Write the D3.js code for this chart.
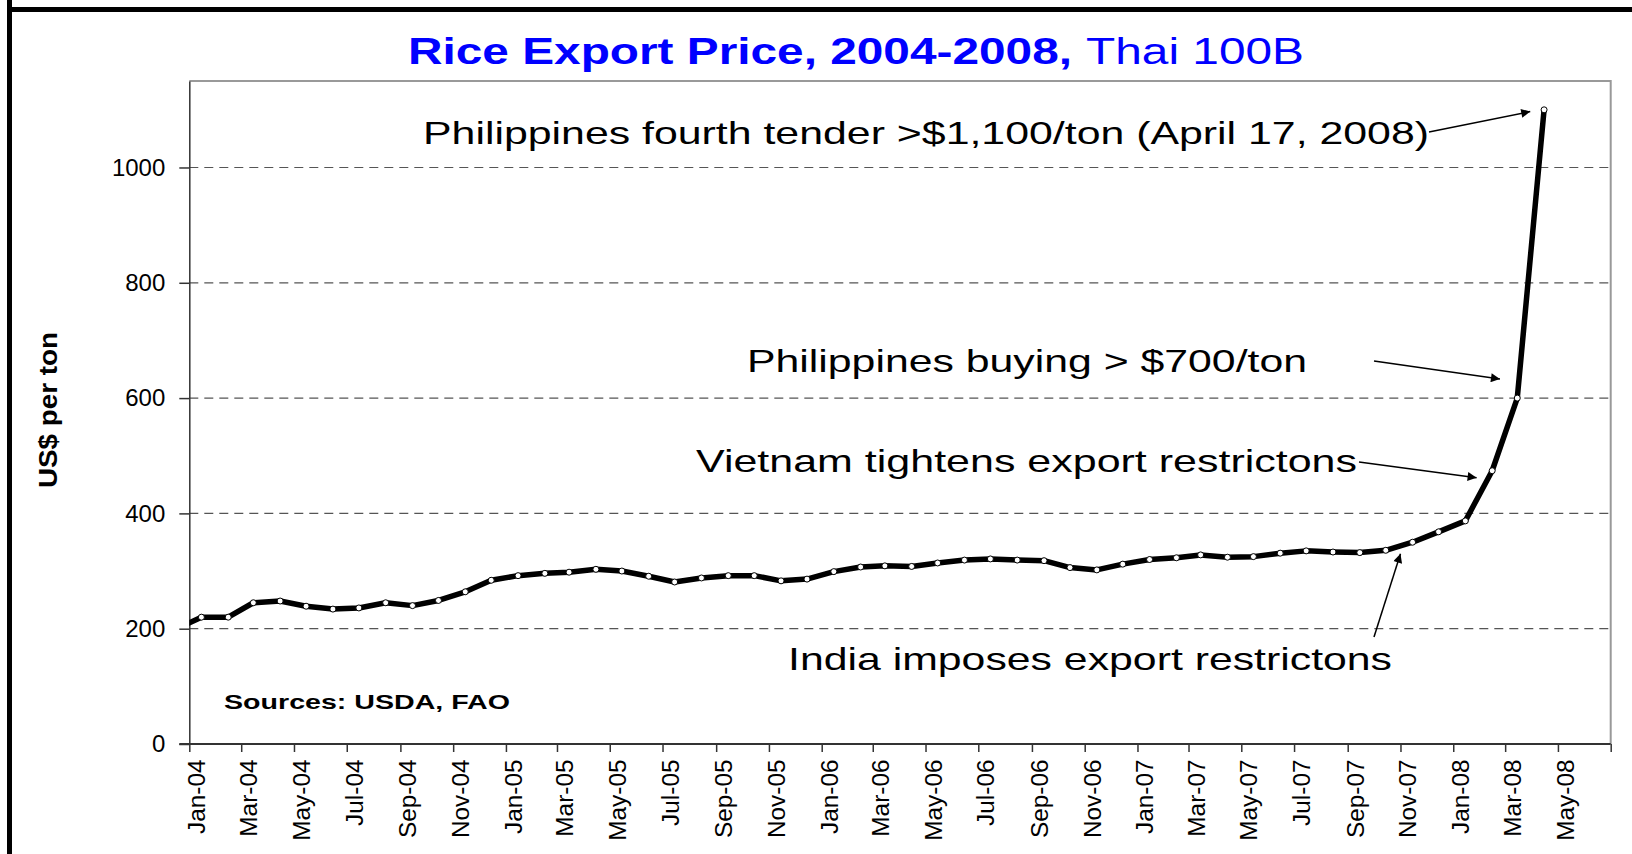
<!DOCTYPE html>
<html>
<head>
<meta charset="utf-8">
<script src="https://cdn.jsdelivr.net/npm/d3@7"></script>
<style>
  html, body { margin: 0; padding: 0; background: #fff; }
  svg { display: block; font-family: "Liberation Sans", Arial, sans-serif; }
</style>
</head>
<body>
<div id="chart"></div>
<script>
// Thai 100B rice export price, US$ per ton, monthly quotes
// (the Dec-03 quote only feeds the start of the line, which is clipped at the axis)
var months = [
  "2003-12",
  "2004-01", "2004-02", "2004-03", "2004-04", "2004-05", "2004-06", "2004-07", "2004-08", "2004-09", "2004-10", "2004-11", "2004-12",
  "2005-01", "2005-02", "2005-03", "2005-04", "2005-05", "2005-06", "2005-07", "2005-08", "2005-09", "2005-10", "2005-11", "2005-12",
  "2006-01", "2006-02", "2006-03", "2006-04", "2006-05", "2006-06", "2006-07", "2006-08", "2006-09", "2006-10", "2006-11", "2006-12",
  "2007-01", "2007-02", "2007-03", "2007-04", "2007-05", "2007-06", "2007-07", "2007-08", "2007-09", "2007-10", "2007-11", "2007-12",
  "2008-01", "2008-02", "2008-03", "2008-04"
];
var prices = [
  198,
  220, 220, 245, 248, 239, 234, 236, 245, 240, 249, 264, 284,
  292, 296, 298, 303, 300, 291, 281, 288, 292, 292, 283, 286,
  299, 307, 309, 308, 314, 319, 321, 319, 318, 306, 302, 312,
  320, 323, 328, 324, 325, 331, 335, 333, 332, 336, 350, 368,
  387, 474, 600, 1100
];

var yTicks = [0, 200, 400, 600, 800, 1000];
var xTickLabels = [
  "Jan-04", "Mar-04", "May-04", "Jul-04", "Sep-04", "Nov-04",
  "Jan-05", "Mar-05", "May-05", "Jul-05", "Sep-05", "Nov-05",
  "Jan-06", "Mar-06", "May-06", "Jul-06", "Sep-06", "Nov-06",
  "Jan-07", "Mar-07", "May-07", "Jul-07", "Sep-07", "Nov-07",
  "Jan-08", "Mar-08", "May-08", "Jul-08"
];

var titleBold = "Rice Export Price, 2004-2008,";
var titleRest = "Thai 100B";
var yLabel = "US$ per ton";
var sourceNote = "Sources: USDA, FAO";

// annotation texts and the point on the curve each arrow points at
var noteTexts = [
  "Philippines fourth tender >$1,100/ton (April 17, 2008)",
  "Philippines buying > $700/ton",
  "Vietnam tightens export restrictons",
  "India imposes export restrictons"
];
var noteTargetDates = ["2008-03-30", "2008-02-24", "2008-01-28", "2007-11-01"];
var noteTargetValues = [1097, 633, 462, 330];

// layout for the annotation texts: left x, baseline, width, arrow start
var noteLayout = [
  {x: 423, y: 144, w: 1006, ax: 1429, ay: 132},
  {x: 747, y: 372, w: 560, ax: 1374, ay: 361},
  {x: 696, y: 472, w: 661, ax: 1359, ay: 462},
  {x: 788, y: 670, w: 604, ax: 1374, ay: 637}
];

var W = 1632, H = 854;
var plot = {left: 189.3, right: 1610.7, top: 81, bottom: 744};

var parseMonth = d3.timeParse("%Y-%m");
var parseDay = d3.timeParse("%Y-%m-%d");
var parseTick = d3.timeParse("%b-%y");

// quotes sit mid-month on a date axis
var data = months.map(function(m, i) {
  return {date: d3.timeDay.offset(parseMonth(m), 14), value: prices[i]};
});

var x = d3.scaleTime()
  .domain([new Date(2004, 0, 1), new Date(2008, 6, 1)])
  .range([plot.left, plot.right]);
var y = d3.scaleLinear()
  .domain([0, 1150])
  .range([plot.bottom, plot.top]);

var svg = d3.select("#chart").append("svg")
  .attr("width", W)
  .attr("height", H);

svg.append("rect").attr("width", W).attr("height", H).attr("fill", "#fff");

var defs = svg.append("defs");
defs.append("clipPath").attr("id", "plotclip")
  .append("rect")
  .attr("x", plot.left).attr("y", plot.top - 10)
  .attr("width", plot.right - plot.left).attr("height", plot.bottom - plot.top + 10);
defs.append("marker")
  .attr("id", "arrow")
  .attr("viewBox", "0 0 10 10")
  .attr("refX", 10).attr("refY", 5)
  .attr("markerWidth", 15).attr("markerHeight", 9)
  .attr("markerUnits", "userSpaceOnUse")
  .attr("orient", "auto")
  .append("path")
  .attr("d", "M0,0L10,5L0,10z")
  .attr("fill", "#000");

// slide frame
svg.append("line")
  .attr("x1", 9.5).attr("x2", 9.5).attr("y1", 0).attr("y2", H)
  .attr("stroke", "#000").attr("stroke-width", 5);
svg.append("line")
  .attr("x1", 7).attr("x2", W).attr("y1", 9.5).attr("y2", 9.5)
  .attr("stroke", "#000").attr("stroke-width", 5);

// stretch text along its length like the original
function stretch(sel, k) {
  sel.each(function() {
    var len = this.getComputedTextLength();
    if (len > 0) {
      d3.select(this).attr("textLength", len * k).attr("lengthAdjust", "spacingAndGlyphs");
    }
  });
}

// title
svg.append("text")
  .attr("x", 408).attr("y", 64)
  .attr("font-size", 36).attr("font-weight", "bold")
  .attr("fill", "#0000ff")
  .attr("textLength", 664).attr("lengthAdjust", "spacingAndGlyphs")
  .text(titleBold);
svg.append("text")
  .attr("x", 1086).attr("y", 64)
  .attr("font-size", 36)
  .attr("fill", "#0000ff")
  .attr("textLength", 218).attr("lengthAdjust", "spacingAndGlyphs")
  .text(titleRest);

// gridlines
svg.append("g")
  .selectAll("line")
  .data(yTicks.filter(function(d) { return d > 0; }))
  .join("line")
  .attr("x1", plot.left).attr("x2", plot.right)
  .attr("y1", function(d) { return y(d); })
  .attr("y2", function(d) { return y(d); })
  .attr("stroke", "#555")
  .attr("stroke-width", 1.2)
  .attr("stroke-dasharray", "9,6");

// plot frame, top and right
svg.append("path")
  .attr("d", "M" + plot.left + "," + plot.top + "H" + plot.right + "V" + plot.bottom)
  .attr("fill", "none")
  .attr("stroke", "#999")
  .attr("stroke-width", 2);

// y axis
var yAxis = svg.append("g")
  .attr("transform", "translate(" + plot.left + ",0)")
  .call(d3.axisLeft(y).tickValues(yTicks).tickFormat(d3.format("d"))
    .tickSize(10).tickSizeOuter(0).tickPadding(14));
yAxis.select(".domain").attr("stroke", "#333").attr("stroke-width", 1.5);
yAxis.selectAll(".tick line").attr("stroke", "#333").attr("stroke-width", 1.5);
yAxis.selectAll("text")
  .attr("font-size", 24)
  .attr("font-family", "'Liberation Sans', Arial, sans-serif")
  .attr("fill", "#000");

// x axis
var xTicks = xTickLabels.map(function(s) { return parseTick(s); });
var xAxis = svg.append("g")
  .attr("transform", "translate(0," + plot.bottom + ")")
  .call(d3.axisBottom(x).tickValues(xTicks).tickSize(8).tickSizeOuter(0)
    .tickFormat(function(d, i) { return i < xTickLabels.length - 1 ? xTickLabels[i] : ""; }));
xAxis.select(".domain").remove();
xAxis.insert("line", ":first-child")
  .attr("x1", plot.left - 10).attr("x2", plot.right)
  .attr("stroke", "#333").attr("stroke-width", 2);
xAxis.selectAll(".tick line").attr("stroke", "#333").attr("stroke-width", 1.5);
xAxis.selectAll("text")
  .attr("font-size", 23)
  .attr("font-family", "'Liberation Sans', Arial, sans-serif")
  .attr("fill", "#000")
  .attr("transform", "rotate(-90)")
  .attr("text-anchor", "end")
  .attr("x", -15.5)
  .attr("y", 15.5)
  .attr("dy", null);
stretch(xAxis.selectAll("text"), 1.06);

// y axis title
svg.append("text")
  .attr("transform", "translate(57,410) rotate(-90)")
  .attr("text-anchor", "middle")
  .attr("font-size", 26)
  .attr("font-weight", "bold")
  .attr("textLength", 156).attr("lengthAdjust", "spacingAndGlyphs")
  .text(yLabel);

// price line
var line = d3.line()
  .x(function(d) { return x(d.date); })
  .y(function(d) { return y(d.value); });

var series = svg.append("g").attr("clip-path", "url(#plotclip)");
series.append("path")
  .datum(data)
  .attr("d", line)
  .attr("fill", "none")
  .attr("stroke", "#000")
  .attr("stroke-width", 5.5)
  .attr("stroke-linejoin", "round");
series.selectAll("circle")
  .data(data)
  .join("circle")
  .attr("cx", function(d) { return x(d.date); })
  .attr("cy", function(d) { return y(d.value); })
  .attr("r", 3)
  .attr("fill", "#fff")
  .attr("stroke", "#000")
  .attr("stroke-width", 1);

// annotations
noteTexts.forEach(function(t, i) {
  var L = noteLayout[i];
  svg.append("text")
    .attr("x", L.x).attr("y", L.y)
    .attr("font-size", 32)
    .attr("fill", "#000")
    .attr("textLength", L.w).attr("lengthAdjust", "spacingAndGlyphs")
    .text(t);
  svg.append("line")
    .attr("x1", L.ax).attr("y1", L.ay)
    .attr("x2", x(parseDay(noteTargetDates[i])))
    .attr("y2", y(noteTargetValues[i]))
    .attr("stroke", "#000")
    .attr("stroke-width", 1.5)
    .attr("marker-end", "url(#arrow)");
});

// source note
var src = svg.append("text")
  .attr("x", 224).attr("y", 708.5)
  .attr("font-size", 21)
  .attr("font-weight", "bold")
  .attr("textLength", 286).attr("lengthAdjust", "spacingAndGlyphs")
  .text(sourceNote);
</script>
</body>
</html>
